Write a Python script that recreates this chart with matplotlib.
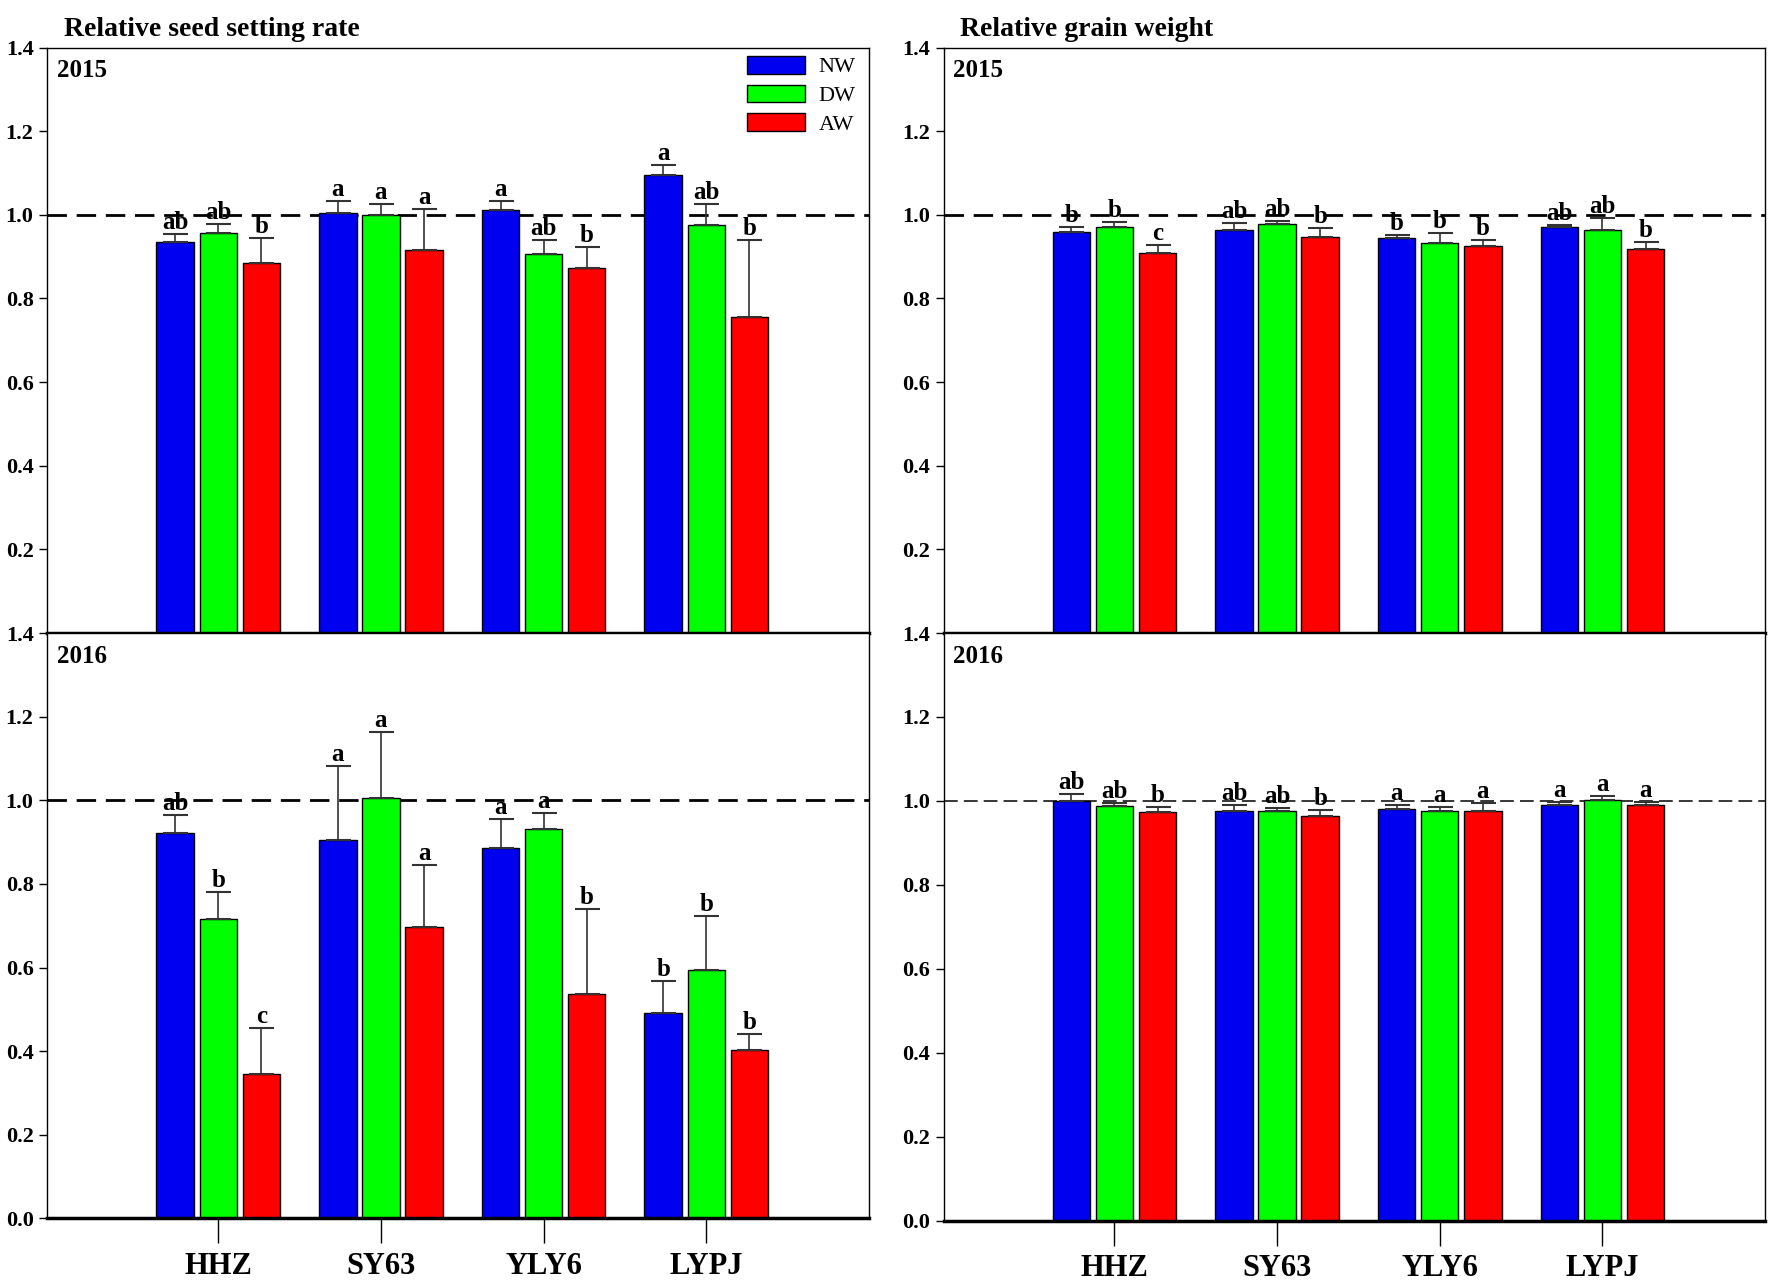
import numpy as np
import matplotlib.pyplot as plt

plt.rcParams['font.family'] = ['Liberation Serif', 'DejaVu Serif']

cultivares = ['HHZ', 'SY63', 'YLY6', 'LYPJ']
tratamentos = ['NW', 'DW', 'AW']
cores = ['#0000f0', '#00ff00', '#ff0000']

# taxa relativa de pegamento (seed setting rate) - valores e topo do erro
seed_2015 = [[0.935, 1.004, 1.012, 1.095],
             [0.956, 1.000, 0.907, 0.976],
             [0.886, 0.915, 0.874, 0.756]]
seed_2015_err = [[0.955, 1.033, 1.033, 1.120],
                 [0.979, 1.027, 0.939, 1.026],
                 [0.944, 1.014, 0.923, 0.939]]
seed_2015_let = [['ab', 'a', 'a', 'a'],
                 ['ab', 'a', 'ab', 'ab'],
                 ['b', 'a', 'b', 'b']]

seed_2016 = [[0.922, 0.905, 0.885, 0.491],
             [0.716, 1.005, 0.931, 0.594],
             [0.346, 0.696, 0.536, 0.404]]
seed_2016_err = [[0.965, 1.083, 0.955, 0.567],
                 [0.781, 1.164, 0.970, 0.724],
                 [0.456, 0.846, 0.741, 0.442]]
seed_2016_let = [['ab', 'a', 'a', 'b'],
                 ['b', 'a', 'a', 'b'],
                 ['c', 'a', 'b', 'b']]

# peso relativo de grao (grain weight)
grain_2015 = [[0.959, 0.965, 0.945, 0.970],
              [0.972, 0.979, 0.932, 0.965],
              [0.909, 0.948, 0.925, 0.918]]
grain_2015_err = [[0.971, 0.980, 0.952, 0.976],
                  [0.983, 0.986, 0.956, 0.993],
                  [0.927, 0.969, 0.940, 0.935]]
grain_2015_let = [['b', 'ab', 'b', 'ab'],
                  ['b', 'ab', 'b', 'ab'],
                  ['c', 'b', 'b', 'b']]

grain_2016 = [[1.000, 0.976, 0.980, 0.990],
              [0.987, 0.976, 0.976, 1.003],
              [0.973, 0.963, 0.976, 0.990]]
grain_2016_err = [[1.017, 0.990, 0.990, 0.998],
                  [0.994, 0.983, 0.986, 1.011],
                  [0.986, 0.979, 0.994, 0.998]]
grain_2016_let = [['ab', 'ab', 'a', 'a'],
                  ['ab', 'ab', 'a', 'a'],
                  ['b', 'b', 'a', 'a']]

fig = plt.figure(figsize=(17.72, 12.83), dpi=100)

x = np.arange(1, 5)
largura = 0.23
passo = 0.265


def desenha(ax, vals, errs, letras, ano, dash, dash_lw, mostra_zero):
    for i in range(3):
        pos = x + (i - 1) * passo
        v = np.array(vals[i])
        e = np.array(errs[i]) - v
        ax.bar(pos, v, largura, color=cores[i], edgecolor='black', linewidth=1.0,
               label=tratamentos[i], zorder=2)
        ax.errorbar(pos, v, yerr=[np.zeros(4), e], fmt='none', ecolor='#333333',
                    elinewidth=1.2, capsize=9, capthick=1.5, zorder=3)
        for j in range(4):
            ax.annotate(letras[i][j], (pos[j], errs[i][j]), xytext=(0, 0),
                        textcoords='offset points', ha='center', va='bottom',
                        fontsize=18, fontweight='bold', zorder=4)
    ax.axhline(1.0, color='black', linestyle=dash, linewidth=dash_lw, zorder=1)
    ax.set_xlim(-0.05, 5.0)
    ax.set_ylim(0, 1.4)
    if mostra_zero:
        ax.set_yticks(np.arange(0, 1.41, 0.2))
    else:
        ax.set_yticks(np.arange(0.2, 1.41, 0.2))
    ax.set_yticklabels([f'{t:.1f}' for t in ax.get_yticks()])
    ax.tick_params(axis='y', direction='out', length=6, width=1, labelsize=16, pad=4)
    for lab in ax.get_yticklabels():
        lab.set_fontweight('bold')
    ax.text(0.012, 0.98, ano, transform=ax.transAxes, ha='left', va='top',
            fontsize=18, fontweight='bold')
    for s in ax.spines.values():
        s.set_linewidth(1.0)
    ax.spines['bottom'].set_linewidth(2.5)


tracejado_grosso = (0, (7, 3.5))
tracejado_fino = (0, (9, 4))

paineis = [
    (0.0268, seed_2015, seed_2015_err, seed_2015_let, seed_2016, seed_2016_err,
     seed_2016_let, 'Relative seed setting rate', 2.0, 2.0, tracejado_grosso),
    (0.5325, grain_2015, grain_2015_err, grain_2015_let, grain_2016, grain_2016_err,
     grain_2016_let, 'Relative grain weight', 2.0, 1.1, tracejado_fino),
]

for k, (esq, v15, e15, l15, v16, e16, l16, titulo, lw15, lw16, d16) in enumerate(paineis):
    ax_top = fig.add_axes([esq, 0.5066, 0.4636, 0.4563])
    ax_bot = fig.add_axes([esq, 0.0503 if k == 0 else 0.0487, 0.4636,
                           0.4563 if k == 0 else 0.4579])
    desenha(ax_top, v15, e15, l15, '2015', tracejado_grosso, lw15, False)
    desenha(ax_bot, v16, e16, l16, '2016', d16, lw16, True)
    ax_top.set_xticks([])
    ax_bot.set_xticks(x)
    ax_bot.set_xticklabels(cultivares, fontsize=22, fontweight='bold')
    ax_bot.tick_params(axis='x', direction='out', length=18, width=1, pad=6)
    ax_top.set_title(titulo, loc='left', fontsize=20, fontweight='bold', pad=8,
                     x=0.02)
    if k == 0:
        ax_top.legend(loc='upper right', bbox_to_anchor=(1.008, 1.02), frameon=False,
                      fontsize=16, handlelength=2.6, handleheight=0.85,
                      labelspacing=0.32, handletextpad=0.6)

fig.savefig('out.png', dpi=100)
